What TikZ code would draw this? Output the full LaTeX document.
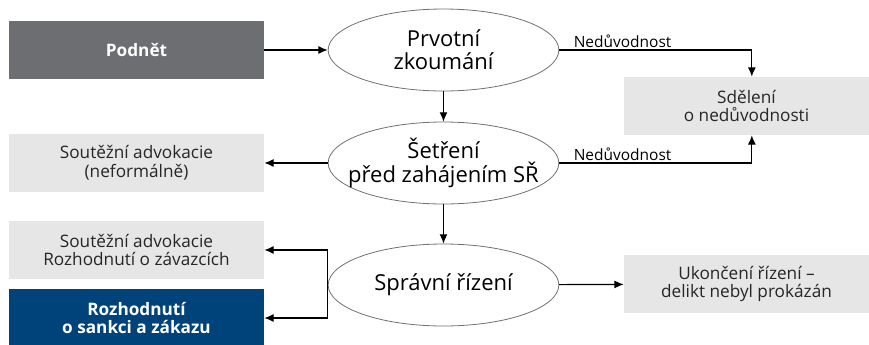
\documentclass[tikz,border=0pt]{standalone}
\usepackage{fontspec}
\setmainfont{Open Sans}
\usetikzlibrary{shapes.geometric,arrows.meta}

\definecolor{darkgrey}{HTML}{6D6E71}
\definecolor{lightgrey}{HTML}{E6E6E6}
\definecolor{navy}{HTML}{00427A}
\definecolor{edgegrey}{HTML}{707070}

\begin{document}
\begin{tikzpicture}[x=0.75pt,y=-0.75pt,
            stage/.style={ellipse, draw=edgegrey, line width=0.6pt, minimum width=173pt, minimum height=61.5pt, inner xsep=-11pt, inner ysep=0pt, align=center, font=\fontsize{16.5}{17.5}\selectfont},
            box/.style={rectangle, fill=lightgrey, minimum width=191.25pt, minimum height=43.5pt, align=center, text=black!85, font=\fontsize{12.9}{14}\selectfont},
            result/.style={box, minimum width=183.75pt},
            darkbox/.style={box, fill=darkgrey, text=white, font=\fontsize{12.9}{14}\selectfont\bfseries},
            navybox/.style={box, fill=navy, text=white, font=\fontsize{12.9}{14}\selectfont\bfseries},
            reason/.style={anchor=south west, inner sep=1.5pt, xshift=9pt, font=\fontsize{11.6}{13}\selectfont},
            arrow/.style={-{Latex[length=7pt,width=6pt]}, line width=0.9pt}
            ]
            \useasboundingbox (0,0) rectangle (869,344);

            % Stages
            \node[stage] (zkoumani) at (443.5,50) {Prvotní\\zkoumání};
            \node[stage] (setreni) at (443.5,163) {Šetření\\před zahájením SŘ};
            \node[stage] (rizeni) at (443.5,285) {Správní řízení};

            % Inputs and outcomes
            \node[darkbox] (podnet) at (136.5,50) {Podnět};
            \node[result] (sdeleni) at (746.5,106) {Sdělení\\o nedůvodnosti};
            \node[box] (advokacie) at (136.5,163) {Soutěžní advokacie\\(neformálně)};
            \node[box] (zavazky) at (136.5,250) {Soutěžní advokacie\\Rozhodnutí o závazcích};
            \node[navybox] (sankce) at (136.5,318) {Rozhodnutí\\o sankci a zákazu};
            \node[result] (ukonceni) at (746.5,284) {Ukončení řízení –\\delikt nebyl prokázán};

            % Main flow
            \draw[arrow] (podnet) -- (zkoumani);
            \draw[arrow] (zkoumani) -- (setreni);
            \draw[arrow] (setreni) -- (rizeni);
            \draw[arrow] (setreni) -- (advokacie);
            \draw[arrow] (rizeni) -- (ukonceni);

            % Unfounded cases
            \draw[arrow] (zkoumani.east) node[reason] {Nedůvodnost} -| ([xshift=4pt]sdeleni.north);
            \draw[arrow] (setreni.east) node[reason] {Nedůvodnost} -| ([xshift=4pt]sdeleni.south);

            % Decisions
            \draw[arrow] (rizeni.west) |- (zavazky.east);
            \draw[arrow] (rizeni.west) |- (sankce.east);

        \end{tikzpicture}
\end{document}
